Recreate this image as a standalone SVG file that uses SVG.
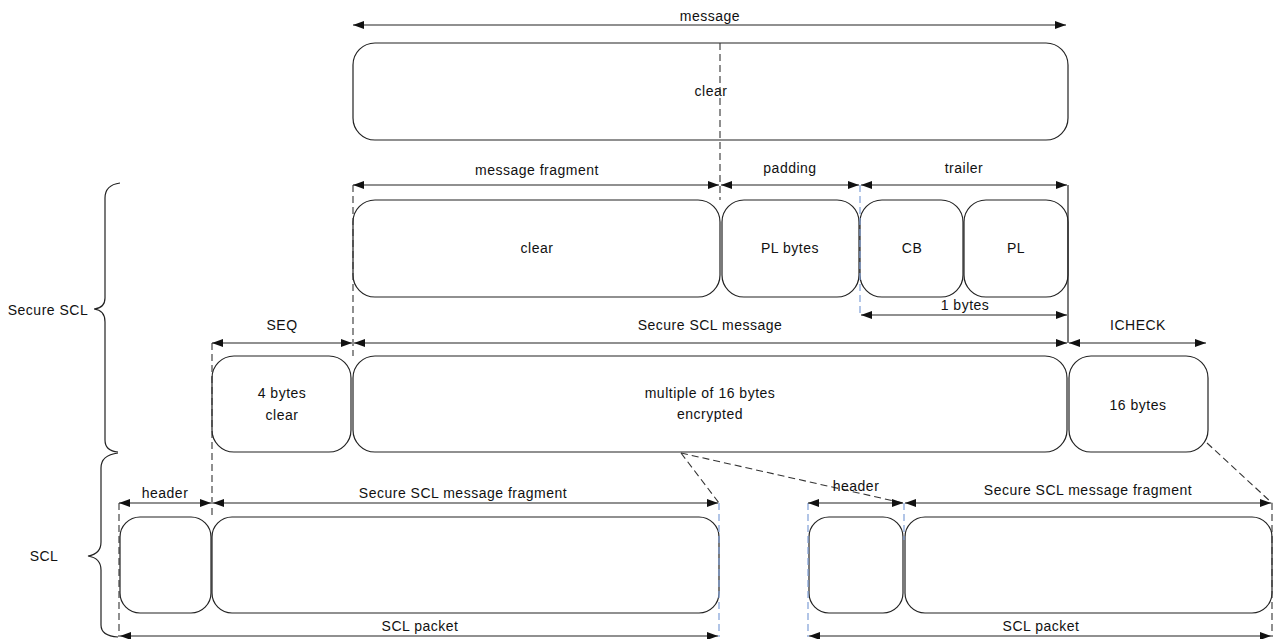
<svg xmlns="http://www.w3.org/2000/svg" width="1273" height="639" viewBox="0 0 1273 639">
<style>
.box{fill:#fff;stroke:#222;stroke-width:1.2}
.t{font-family:"Liberation Sans",Arial,sans-serif;font-size:14px;letter-spacing:0.5px;fill:#111;text-anchor:middle}
.dim{stroke:#222;stroke-width:1.2;fill:none;marker-start:url(#ah);marker-end:url(#ah)}
.dash{stroke:#333;stroke-width:1.1;stroke-dasharray:7,4;fill:none}
.bdash{stroke:#7f9fd8;stroke-width:1.2;stroke-dasharray:7,4;fill:none}
.solid{stroke:#222;stroke-width:1.2;fill:none}
.brace{stroke:#222;stroke-width:1.2;fill:none}
</style>
<defs>
<marker id="ah" markerUnits="userSpaceOnUse" markerWidth="11" markerHeight="8" refX="11" refY="4" orient="auto-start-reverse">
<path d="M0,0 L11,4 L0,8 z" fill="#111"/>
</marker>
</defs>
<rect width="1273" height="639" fill="#fff"/>

<g id="node-message">
<rect class="box" x="353" y="43" width="715" height="97" rx="22"/>
<text class="t" x="711" y="96">clear</text>
</g>
<g id="node-fragment">
<rect class="box" x="353" y="200" width="367" height="97" rx="22"/>
<text class="t" x="537" y="253">clear</text>
</g>
<g id="node-padding">
<rect class="box" x="722" y="200" width="137" height="97" rx="22"/>
<text class="t" x="790" y="253">PL bytes</text>
</g>
<g id="node-cb">
<rect class="box" x="860" y="200" width="103" height="97" rx="22"/>
<text class="t" x="912" y="253">CB</text>
</g>
<g id="node-pl">
<rect class="box" x="964" y="200" width="104" height="97" rx="22"/>
<text class="t" x="1016" y="253">PL</text>
</g>
<g id="node-seq">
<rect class="box" x="212" y="356" width="139" height="96" rx="22"/>
<text class="t" x="282" y="398">4 bytes</text>
<text class="t" x="282" y="420">clear</text>
</g>
<g id="node-secure">
<rect class="box" x="353" y="356" width="714" height="96" rx="22"/>
<text class="t" x="710" y="398">multiple of 16 bytes</text>
<text class="t" x="710" y="419">encrypted</text>
</g>
<g id="node-icheck">
<rect class="box" x="1069" y="356" width="139" height="96" rx="22"/>
<text class="t" x="1138" y="410">16 bytes</text>
</g>
<g id="node-header1">
<rect class="box" x="120" y="517" width="91" height="96" rx="20"/>
</g>
<g id="node-frag1">
<rect class="box" x="212" y="517" width="507" height="96" rx="20"/>
</g>
<g id="node-header2">
<rect class="box" x="809" y="517" width="94" height="96" rx="20"/>
</g>
<g id="node-frag2">
<rect class="box" x="905" y="517" width="367" height="96" rx="20"/>
</g>

<g id="connectors">
<line class="dash" x1="720" y1="43" x2="720" y2="200"/>
<line class="dash" x1="353" y1="185" x2="353" y2="356"/>
<line class="bdash" x1="860" y1="185" x2="860" y2="316"/>
<line class="solid" x1="1068" y1="185" x2="1068" y2="343"/>
<line class="dash" x1="212" y1="343" x2="212" y2="517"/>
<line class="dash" x1="119" y1="503" x2="119" y2="637"/>
<line class="bdash" x1="719" y1="503" x2="719" y2="637"/>
<line class="bdash" x1="808" y1="503" x2="808" y2="637"/>
<line class="bdash" x1="904" y1="503" x2="904" y2="540"/>
<line class="dash" x1="1272" y1="503" x2="1272" y2="637"/>
<line class="dash" x1="681" y1="453" x2="719" y2="503"/>
<line class="dash" x1="681" y1="453" x2="903" y2="503"/>
<line class="dash" x1="1207" y1="443" x2="1272" y2="503"/>

<line class="dim" x1="353" y1="25" x2="1066" y2="25"/>
<line class="dim" x1="353" y1="185" x2="719" y2="185"/>
<line class="dim" x1="721" y1="185" x2="859" y2="185"/>
<line class="dim" x1="861" y1="185" x2="1067" y2="185"/>
<line class="dim" x1="861" y1="315" x2="1067" y2="315"/>
<line class="dim" x1="212" y1="343" x2="352" y2="343"/>
<line class="dim" x1="354" y1="343" x2="1067" y2="343"/>
<line class="dim" x1="1069" y1="343" x2="1206" y2="343"/>
<line class="dim" x1="119" y1="503" x2="211" y2="503"/>
<line class="dim" x1="213" y1="503" x2="718" y2="503"/>
<line class="dim" x1="808" y1="503" x2="903" y2="503"/>
<line class="dim" x1="905" y1="503" x2="1271" y2="503"/>
<line class="dim" x1="120" y1="636" x2="718" y2="636"/>
<line class="dim" x1="809" y1="636" x2="1271" y2="636"/>

<path class="brace" d="M120,183 Q105,185 105,198 L105,298 Q105,308 94,309 Q105,310 105,322 L105,440 Q105,451 118,452"/>
<path class="brace" d="M118,453 Q101,455 101,468 L101,542 Q101,554 88,556 Q101,558 101,570 L101,625 Q101,636 118,637"/>
</g>

<g id="labels">
<text class="t" x="710" y="21">message</text>
<text class="t" x="537" y="175">message fragment</text>
<text class="t" x="790" y="173">padding</text>
<text class="t" x="964" y="173">trailer</text>
<text class="t" x="965" y="310">1 bytes</text>
<text class="t" x="282" y="330">SEQ</text>
<text class="t" x="710" y="330">Secure SCL message</text>
<text class="t" x="1138" y="330">ICHECK</text>
<text class="t" x="165" y="498">header</text>
<text class="t" x="463" y="498">Secure SCL message fragment</text>
<text class="t" x="856" y="491">header</text>
<text class="t" x="1088" y="495">Secure SCL message fragment</text>
<text class="t" x="420" y="631">SCL packet</text>
<text class="t" x="1041" y="631">SCL packet</text>
<text class="t" x="48" y="315">Secure SCL</text>
<text class="t" x="44" y="561">SCL</text>
</g>
</svg>
